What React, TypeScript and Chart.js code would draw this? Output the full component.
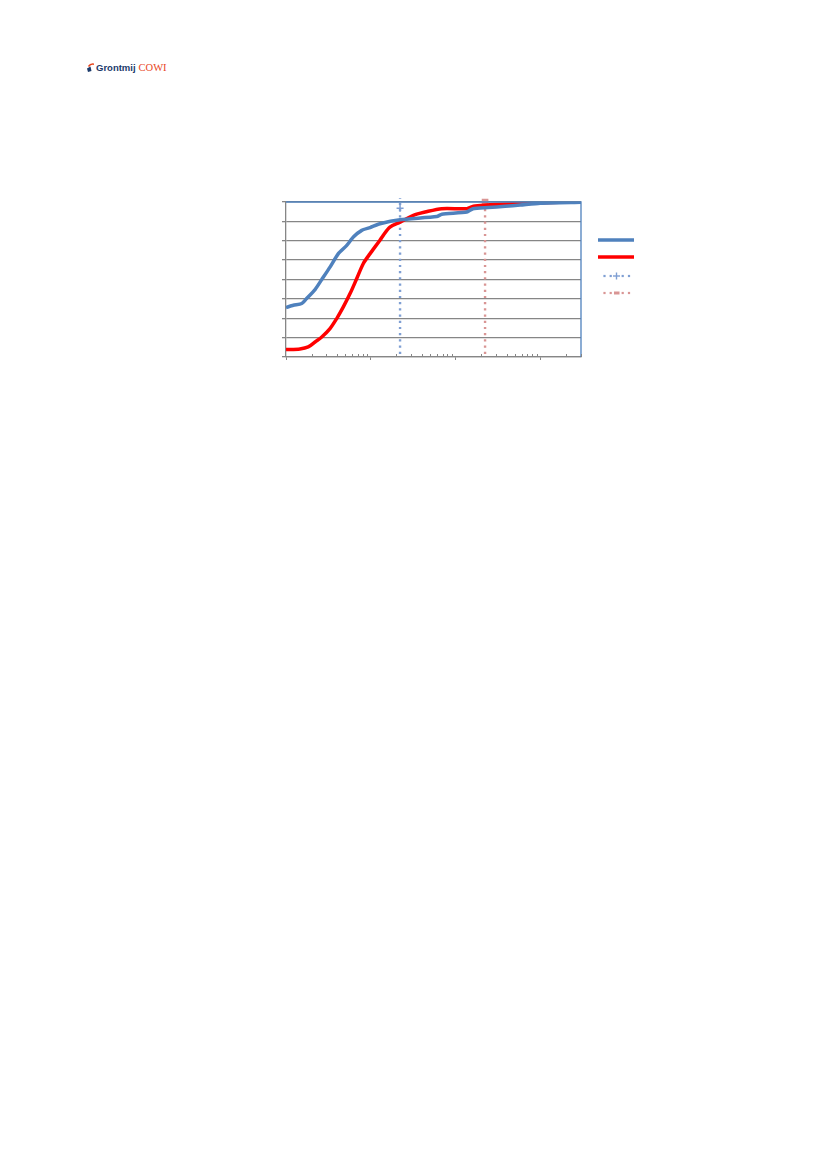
import React, { useEffect, useRef } from "react";
import { Chart, registerables } from "chart.js";

Chart.register(...registerables);

// Grain size (log x) and cumulative passing (%)
const blueSizes = [1, 1.22, 1.53, 1.75, 2.2, 2.64, 3.3, 4.14, 5.2, 6.22, 7.81, 9.8, 12.8, 22.1, 59.9, 68.6, 135, 160, 241, 383, 575, 990, 3000];
const blueValues = [31.9, 33.4, 34.5, 37.7, 43.5, 50, 58, 66.7, 72, 77.4, 81.7, 83.5, 86, 88.6, 90.6, 92.1, 93.5, 95.7, 96.4, 97.2, 98, 99.2, 99.8];

const redSizes = [1, 1.46, 1.83, 2.2, 2.64, 3.3, 3.96, 4.74, 5.69, 6.82, 8.16, 9.8, 12.8, 14.0, 16.8, 22.1, 31.7, 43.6, 68.6, 135, 162, 233, 334, 990, 2775];
const redValues = [4.8, 5.2, 6.5, 9.7, 12.9, 18.3, 24.8, 32.3, 40.9, 50.6, 60.3, 66.7, 75.3, 78.5, 83.8, 87.0, 91.4, 93.5, 95.7, 95.7, 97.2, 98.0, 98.5, 99.5, 100];

const blueMarkerX = 22.1;
const blueMarkerY = [2, 96, 102.5];
const redMarkerX = 222;
const redMarkerY = [2, 100];

const xMin = 1;
const xMax = 3000;
const xMajorTicks = [1, 10, 100, 1000];
const yMin = 0;
const yMax = 100;
const yStep = 12.5;

const BLUE = "#4F81BD";
const RED = "#FF0000";
const BLUE_DOT = "#7F9FD3";
const RED_DOT = "#D99594";
const GRID = "#868686";

const toPts = (xs: number[], ys: number[]) => xs.map((x, i) => ({ x, y: ys[i] }));

const extrasPlugin = {
  id: "extras",
  afterDraw(chart: any) {
    const ctx = chart.ctx;
    const x = chart.scales.x;
    const ca = chart.chartArea;
    ctx.save();
    // plot border (top/right) blue
    ctx.strokeStyle = BLUE;
    ctx.lineWidth = 1.3;
    ctx.beginPath();
    ctx.moveTo(ca.left, ca.top);
    ctx.lineTo(ca.right, ca.top);
    ctx.lineTo(ca.right, ca.bottom);
    ctx.stroke();
    // minor ticks inside on x axis
    ctx.strokeStyle = GRID;
    ctx.lineWidth = 1;
    for (let d = 1; d < xMax; d *= 10) {
      for (let m = 2; m <= 9; m++) {
        const v = d * m;
        if (v > xMax) break;
        const px = Math.round(x.getPixelForValue(v)) + 0.5;
        ctx.beginPath();
        ctx.moveTo(px, ca.bottom);
        ctx.lineTo(px, ca.bottom - 3);
        ctx.stroke();
      }
    }
    // legend (markers only)
    const lx0 = 598;
    const lx1 = 634;
    const rows = [240, 257, 276, 293];
    ctx.lineCap = "butt";
    ctx.strokeStyle = BLUE;
    ctx.lineWidth = 3.5;
    ctx.beginPath();
    ctx.moveTo(lx0, rows[0]);
    ctx.lineTo(lx1, rows[0]);
    ctx.stroke();
    ctx.strokeStyle = RED;
    ctx.beginPath();
    ctx.moveTo(lx0, rows[1]);
    ctx.lineTo(lx1, rows[1]);
    ctx.stroke();
    // dotted entries
    const dots = [604.5, 610.7, 622.7, 629];
    ctx.fillStyle = BLUE_DOT;
    dots.forEach((dx) => ctx.fillRect(dx - 1.1, rows[2] - 1.1, 2.2, 2.2));
    ctx.fillRect(613, rows[2] - 0.7, 7, 1.4);
    ctx.fillRect(615.8, rows[2] - 3.5, 1.4, 7);
    ctx.fillStyle = RED_DOT;
    dots.forEach((dx) => ctx.fillRect(dx - 1.1, rows[3] - 1.1, 2.2, 2.2));
    ctx.fillRect(614, rows[3] - 1.5, 5.5, 3);
    ctx.restore();
  },
};

export default function App() {
  const ref = useRef<HTMLCanvasElement | null>(null);
  useEffect(() => {
    if (!ref.current) return;
    const chart = new Chart(ref.current, {
      type: "line",
      data: {
        datasets: [
          {
            label: "blue",
            data: toPts(blueSizes, blueValues),
            borderColor: BLUE,
            borderWidth: 3.5,
            pointRadius: 0,
            tension: 0.2,
          },
          {
            label: "red",
            data: toPts(redSizes, redValues),
            borderColor: RED,
            borderWidth: 3.5,
            pointRadius: 0,
            tension: 0.3,
          },
          {
            label: "blue d",
            data: blueMarkerY.map((v) => ({ x: blueMarkerX, y: v })),
            borderColor: BLUE_DOT,
            borderWidth: 2.4,
            borderDash: [2.2, 4],
            pointStyle: "cross",
            pointRadius: [0, 3.5, 0],
            pointBorderColor: BLUE_DOT,
            pointBorderWidth: 1.5,
            clip: false,
          },
          {
            label: "red d",
            data: redMarkerY.map((v) => ({ x: redMarkerX, y: v })),
            borderColor: RED_DOT,
            borderWidth: 2.4,
            borderDash: [2.2, 4],
            pointStyle: "rect",
            pointRadius: [0, 3],
            pointBackgroundColor: RED_DOT,
            pointBorderColor: RED_DOT,
            clip: false,
          },
        ],
      },
      options: {
        animation: false,
        responsive: false,
        maintainAspectRatio: false,
        layout: { padding: { left: 276, top: 202, right: 246, bottom: 33 } },
        plugins: { legend: { display: false }, tooltip: { enabled: false } },
        scales: {
          x: {
            type: "logarithmic",
            min: xMin,
            max: xMax,
            afterBuildTicks: (s: any) => {
              s.ticks = xMajorTicks.map((v) => ({ value: v }));
            },
            afterFit: (s: any) => {
              s.height = 10;
            },
            ticks: { display: false },
            grid: { drawOnChartArea: false, drawTicks: true, tickLength: 3, color: GRID },
            border: { color: GRID, width: 1.3 },
          },
          y: {
            min: yMin,
            max: yMax,
            ticks: { display: false, stepSize: yStep },
            afterFit: (s: any) => {
              s.width = 10;
            },
            grid: { color: GRID, lineWidth: 1.3, tickLength: 4 },
            border: { color: GRID, width: 1.3 },
          },
        },
      },
      plugins: [extrasPlugin],
    });
    return () => chart.destroy();
  }, []);
  return (
    <div>
      <div style={{ position: "absolute", left: 87, top: 61, display: "flex", alignItems: "center", height: 12 }}>
        <svg width="7" height="9" viewBox="0 0 7 9" style={{ marginRight: 2 }}>
          <path d="M1.5 3.5 Q3.5 0.5 7 1.2" stroke="#E8461E" strokeWidth="1.6" fill="none" />
          <path d="M0 5.5 L3.5 3.5 L4.5 8 L1 9 Z" fill="#1B3A6B" />
        </svg>
        <span style={{ fontFamily: "Liberation Sans, Arial, sans-serif", fontWeight: "bold", fontSize: 9.5, color: "#1B3A6B" }}>Grontmij</span>
        <span style={{ fontFamily: "Liberation Serif, Times New Roman, serif", fontSize: 10.5, color: "#E8461E", marginLeft: 3 }}>COWI</span>
      </div>
      <canvas ref={ref} width={827} height={400} style={{ position: "absolute", left: 0, top: 0 }} />
    </div>
  );
}
